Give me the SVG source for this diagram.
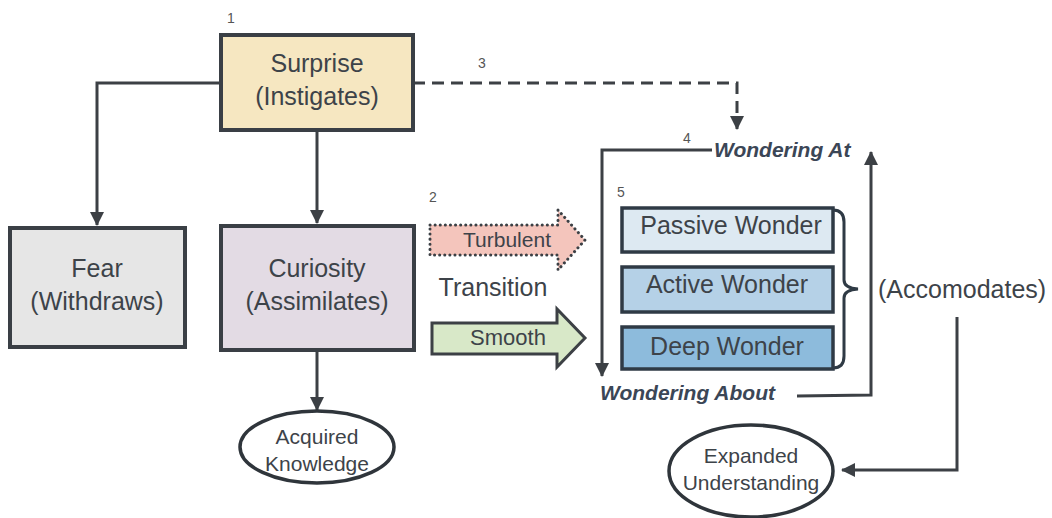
<svg xmlns="http://www.w3.org/2000/svg" width="1052" height="518" viewBox="0 0 1052 518">
<defs>
<marker id="ahL" markerWidth="14" markerHeight="14" refX="13" refY="7" orient="auto" markerUnits="userSpaceOnUse" viewBox="0 0 14 14">
<path d="M0,0 L14,7 L0,14 z" fill="#3c4045"/>
</marker>
<style>
.box{stroke:#3a3f45;stroke-width:4}
.t{font-family:"Liberation Sans",Arial,sans-serif;fill:#3d4349}
.big{font-size:25px}
.med{font-size:21px}
.num{font-size:14px;fill:#555}
.wi{font-family:"Liberation Sans",Arial,sans-serif;font-size:21px;font-weight:bold;font-style:italic;fill:#3b4656}
.ln{fill:none;stroke:#3c4045;stroke-width:3}
.wb{stroke:#2f3a45;stroke-width:3.5}
</style>
</defs>
<rect width="1052" height="518" fill="#ffffff"/>
<g id="connectors">
<polyline class="ln" points="221,83 97,83 97,225" marker-end="url(#ahL)"/>
<line class="ln" x1="317" y1="130" x2="317" y2="223" marker-end="url(#ahL)"/>
<line class="ln" x1="317" y1="350" x2="317" y2="410" marker-end="url(#ahL)"/>
<polyline class="ln" points="413,83 737,83 737,129" stroke-dasharray="12,7" marker-end="url(#ahL)"/>
<polyline class="ln" points="712,150 602,150 602,376" marker-end="url(#ahL)"/>
<polyline class="ln" points="797,396 871,395 871,152" marker-end="url(#ahL)"/>
<polyline class="ln" points="957,317 957,470 842,470" marker-end="url(#ahL)"/>
</g>
<g id="n1">
<text class="t num" x="227" y="23">1</text>
<rect class="box" x="221" y="35" width="192" height="95" fill="#f6e7c1"/>
<text class="t big" x="317" y="72" text-anchor="middle">Surprise</text>
<text class="t big" x="317" y="105" text-anchor="middle">(Instigates)</text>
</g>
<g id="fear">
<rect class="box" x="10" y="228" width="175" height="119" fill="#e6e6e6"/>
<text class="t big" x="97" y="277" text-anchor="middle">Fear</text>
<text class="t big" x="97" y="310" text-anchor="middle">(Withdraws)</text>
</g>
<g id="curiosity">
<rect class="box" x="221" y="226" width="193" height="124" fill="#e3dbe4"/>
<text class="t big" x="317" y="277" text-anchor="middle">Curiosity</text>
<text class="t big" x="317" y="310" text-anchor="middle">(Assimilates)</text>
</g>
<g id="acquired">
<ellipse cx="317" cy="447" rx="77" ry="36" fill="#ffffff" stroke="#2f353b" stroke-width="3.5"/>
<text class="t med" x="317" y="444" text-anchor="middle">Acquired</text>
<text class="t med" x="317" y="471" text-anchor="middle">Knowledge</text>
</g>
<g id="n3">
<text class="t num" x="478" y="68">3</text>
</g>
<g id="transition">
<text class="t num" x="429" y="202">2</text>
<path d="M430,225 L558,225 L558,210 L585,240 L558,270 L558,255 L430,255 Z" fill="#f4c5bc" stroke="#3c4045" stroke-width="3" stroke-dasharray="0.1,5" stroke-linecap="round"/>
<text class="t med" x="507" y="247" text-anchor="middle">Turbulent</text>
<text class="t big" x="493" y="296" text-anchor="middle">Transition</text>
<path d="M432,323 L557,323 L557,309 L585,338 L557,367 L557,354 L432,354 Z" fill="#d8e8c8" stroke="#3c4045" stroke-width="3"/>
<text class="t" style="font-size:22px" x="508" y="345" text-anchor="middle">Smooth</text>
</g>
<g id="wat">
<text class="t num" x="683" y="143">4</text>
<text class="wi" x="714" y="157">Wondering At</text>
</g>
<g id="wonders">
<text class="t num" x="617" y="197">5</text>
<rect class="wb" x="622" y="208" width="211" height="44" fill="#dde9f2"/>
<text class="t big" x="731" y="234" text-anchor="middle">Passive Wonder</text>
<rect class="wb" x="622" y="267" width="211" height="45" fill="#b5d1e7"/>
<text class="t big" x="727" y="293" text-anchor="middle">Active Wonder</text>
<rect class="wb" x="622" y="327" width="211" height="42" fill="#8dbbdc"/>
<text class="t big" x="727" y="355" text-anchor="middle">Deep Wonder</text>
<path d="M833,210 Q844,210 844,222 L844,280 Q844,288 858,289 Q844,290 844,298 L844,356 Q844,368 833,368" fill="none" stroke="#2f3a45" stroke-width="3"/>
</g>
<g id="wabout">
<text class="wi" x="600" y="400">Wondering About</text>
</g>
<g id="accom">
<text class="t big" x="878" y="298">(Accomodates)</text>
</g>
<g id="expanded">
<ellipse cx="751" cy="471" rx="82" ry="46" fill="#ffffff" stroke="#2f353b" stroke-width="3.5"/>
<text class="t med" x="751" y="463" text-anchor="middle">Expanded</text>
<text class="t med" x="751" y="490" text-anchor="middle">Understanding</text>
</g>
</svg>
